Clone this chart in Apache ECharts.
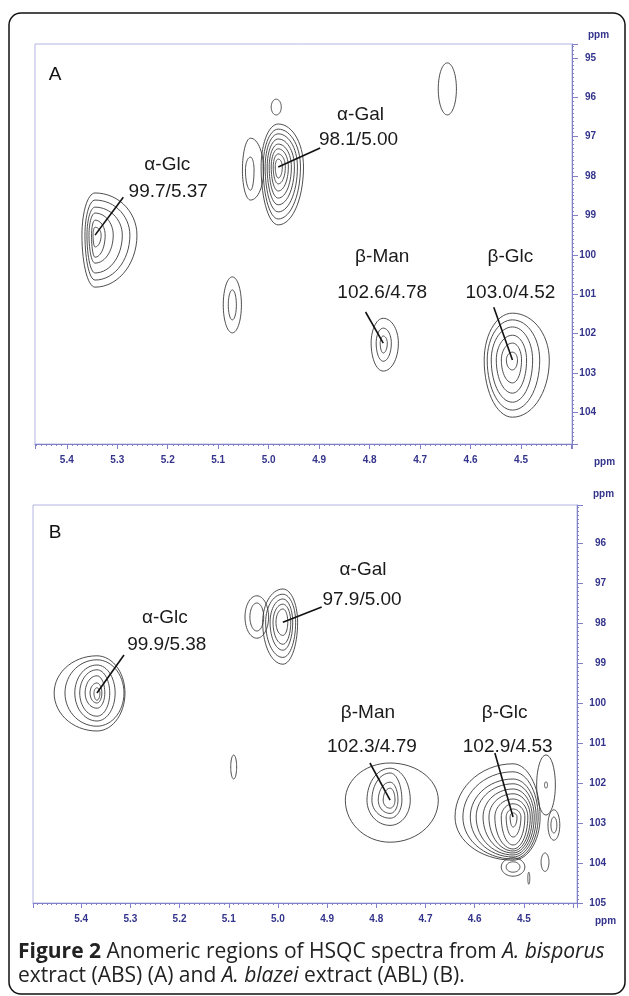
<!DOCTYPE html>
<html><head><meta charset="utf-8">
<script src="https://cdn.jsdelivr.net/npm/echarts@6/dist/echarts.min.js"></script>
<style>html,body{margin:0;padding:0;background:#fff}#c{width:629px;height:996px}</style>
</head><body><div id="c"></div>
<script>
// ---------- tick labels ----------
const xTickLabels = ['5.4','5.3','5.2','5.1','5.0','4.9','4.8','4.7','4.6','4.5'];
const yTickLabelsA = ['95','96','97','98','99','100','101','102','103','104'];
const yTickLabelsB = ['96','97','98','99','100','101','102','103','104','105'];

// ---------- contour peaks: centre [1H ppm, 13C ppm]; levels [left, right, up, down] half-extents in ppm ----------
// Panel A (ABS)
const A_aGlc_c = [5.344, 99.50];
const A_aGlc_lv = [[.026,.083,1.07,1.32],[.020,.069,.89,1.14],[.016,.054,.71,.96],[.012,.036,.56,.71],[.007,.020,.38,.56],[.004,.012,.20,.30]];
const A_aGal_c = [4.981, 97.77];
const A_aGal_lv = [[.034,.050,1.09,1.47],[.030,.044,.96,1.32],[.026,.038,.84,1.14],[.022,.032,.71,.96],[.018,.026,.58,.79],[.014,.020,.46,.61],[.010,.014,.33,.43],[.006,.008,.20,.28]];
const A_aGalSh_c = [5.036, 97.85];
const A_aGalSh_lv = [[.016,.026,.81,.76],[.010,.007,.33,.51]];
const A_small1_c = [4.985, 96.25];
const A_small1_lv = [[.010,.010,.20,.20]];
const A_top_c = [4.646, 95.79];
const A_top_lv = [[.018,.018,.66,.66]];
const A_p508_c = [5.072, 101.27];
const A_p508_lv = [[.018,.018,.71,.71],[.008,.008,.38,.38]];
const A_bMan_c = [4.773, 102.24];
const A_bMan_lv = [[.024,.030,.63,.71],[.014,.016,.38,.46],[.006,.008,.18,.25]];
const A_bGlc_c = [4.517, 102.67];
const A_bGlc_lv = [[.056,.073,1.19,1.45],[.050,.054,1.02,1.27],[.042,.040,.84,1.07],[.032,.028,.63,.84],[.022,.018,.43,.58],[.012,.010,.20,.25]];

// Panel B (ABL)
const B_aGlc_c = [5.368, 99.75];
const B_aGlc_lv = [[.087,.057,.93,.95],[.065,.055,.83,.83],[.045,.037,.70,.70],[.035,.026,.58,.58],[.024,.016,.43,.38],[.014,.010,.25,.25],[.006,.006,.13,.18]];
const B_aGal_c = [4.990, 97.98];
const B_aGal_lv = [[.041,.030,.83,1.05],[.035,.026,.70,.88],[.026,.020,.58,.70],[.020,.016,.45,.55],[.014,.010,.33,.33]];
const B_aGalSh_c = [5.043, 97.85];
const B_aGalSh_lv = [[.024,.024,.53,.53],[.014,.014,.35,.35]];
const B_p509_c = [5.090, 101.6];
const B_p509_lv = [[.006,.006,.30,.30]];
const B_bMan_c = [4.772, 102.43];
const B_bMan_lv = [[.091,.098,.93,1.05],[.047,.041,.80,.63],[.037,.024,.68,.45],[.024,.016,.45,.33],[.014,.010,.30,.20]];
const B_bGlc_c = [4.522, 102.85];
const B_bGlc_lv = [[.118,.055,1.33,1.08],[.102,.051,1.13,1.05],[.087,.047,.95,1.00],[.075,.043,.83,.95],[.061,.039,.70,.90],[.049,.035,.58,.85],[.037,.030,.45,.80],[.024,.024,.33,.70],[.014,.016,.20,.50],[.006,.008,.10,.25]];
const B_spike_c = [4.455, 102.05];
const B_spike_lv = [[.019,.019,.75,.75],[.003,.003,.08,.08]];
const B_oval1_c = [4.439, 103.05];
const B_oval1_lv = [[.012,.012,.38,.38],[.006,.006,.20,.20]];
const B_oval2_c = [4.457, 103.98];
const B_oval2_lv = [[.008,.008,.23,.23]];
const B_below_c = [4.522, 104.10];
const B_below_lv = [[.024,.024,.23,.23],[.014,.014,.13,.13]];
const B_tick_c = [4.490, 104.38];
const B_tick_lv = [[.002,.002,.15,.15]];

// ---------- annotations ----------
const annotA_names = ['α-Glc','α-Gal','β-Man','β-Glc'];
const annotA_values = ['99.7/5.37','98.1/5.00','102.6/4.78','103.0/4.52'];
const annotA_namePos = [[5.201,97.72],[4.818,96.45],[4.775,100.06],[4.521,100.06]];
const annotA_valuePos = [[5.199,98.41],[4.822,97.09],[4.775,100.97],[4.521,100.97]];
const annotA_leaderFrom = [[5.288,98.54],[4.898,97.29],[4.808,101.45],[4.554,101.33]];
const annotA_leaderTo = [[5.344,99.50],[4.981,97.77],[4.773,102.24],[4.517,102.67]];

const annotB_names = ['α-Glc','α-Gal','β-Man','β-Glc'];
const annotB_values = ['99.9/5.38','97.9/5.00','102.3/4.79','102.9/4.53'];
const annotB_namePos = [[5.230,97.88],[4.827,96.68],[4.817,100.25],[4.539,100.25]];
const annotB_valuePos = [[5.226,98.55],[4.829,97.43],[4.809,101.10],[4.533,101.10]];
const annotB_leaderFrom = [[5.313,98.80],[4.911,97.60],[4.813,101.50],[4.559,101.25]];
const annotB_leaderTo = [[5.368,99.75],[4.990,97.98],[4.772,102.43],[4.522,102.85]];

// ---------- build ----------
function rings(list){
  const out=[];
  list.forEach(([c,lv])=>lv.forEach(l=>out.push([c[0],c[1],l[0],l[1],l[2],l[3]])));
  return out;
}
const ringsA = rings([[A_aGlc_c,A_aGlc_lv],[A_aGal_c,A_aGal_lv],[A_aGalSh_c,A_aGalSh_lv],[A_small1_c,A_small1_lv],[A_top_c,A_top_lv],[A_p508_c,A_p508_lv],[A_bMan_c,A_bMan_lv],[A_bGlc_c,A_bGlc_lv]]);
const ringsB = rings([[B_aGlc_c,B_aGlc_lv],[B_aGal_c,B_aGal_lv],[B_aGalSh_c,B_aGalSh_lv],[B_p509_c,B_p509_lv],[B_bMan_c,B_bMan_lv],[B_bGlc_c,B_bGlc_lv],[B_spike_c,B_spike_lv],[B_oval1_c,B_oval1_lv],[B_oval2_c,B_oval2_lv],[B_below_c,B_below_lv],[B_tick_c,B_tick_lv]]);

function renderRing(params, api){
  const c = api.coord([api.value(0), api.value(1)]);
  const s = api.size([1,1]);
  const sx = Math.abs(s[0]), sy = Math.abs(s[1]);
  const L=api.value(2)*sx, R=api.value(3)*sx, U=api.value(4)*sy, D=api.value(5)*sy;
  const pts=[]; const N=60;
  for(let i=0;i<N;i++){
    const t=i/N*2*Math.PI, ct=Math.cos(t), st=Math.sin(t);
    pts.push([c[0]+ct*(ct<0?L:R), c[1]+st*(st<0?U:D)]);
  }
  return {type:'polygon', shape:{points:pts}, style:{fill:null, stroke:'#3a3a3a', lineWidth:0.9}};
}

function annotData(names, vals, np, vp, lf, lt){
  return names.map((n,i)=>[lf[i][0],lf[i][1],lt[i][0],lt[i][1],np[i][0],np[i][1],vp[i][0],vp[i][1],i]);
}
function makeAnnotRender(names, vals){
  return function(params, api){
    const a = api.coord([api.value(0),api.value(1)]);
    const b = api.coord([api.value(2),api.value(3)]);
    const n = api.coord([api.value(4),api.value(5)]);
    const v = api.coord([api.value(6),api.value(7)]);
    const i = api.value(8);
    const ts = {fontSize:19, fontFamily:'"Liberation Sans", Arial, sans-serif', fill:'#1a1a1a', align:'center', verticalAlign:'middle'};
    return {type:'group', children:[
      {type:'line', shape:{x1:a[0],y1:a[1],x2:b[0],y2:b[1]}, style:{stroke:'#111', lineWidth:1.6}},
      {type:'text', style:Object.assign({text:names[i], x:n[0], y:n[1]}, ts)},
      {type:'text', style:Object.assign({text:vals[i], x:v[0], y:v[1]}, ts)}
    ]};
  };
}

const axisColor = '#8080c8';
const labelColor = '#34348c';
const labelFont = {color:labelColor, fontWeight:'bold', fontSize:10, fontFamily:'"Liberation Sans", Arial, sans-serif'};

function xAxisCfg(gi, min, max, gap){
  return {type:'value', gridIndex:gi, inverse:true, min:min, max:max, splitNumber:10, minInterval:0.1, maxInterval:0.1,
    axisLine:{show:true, lineStyle:{color:axisColor, width:1}},
    axisTick:{show:true, length:5, lineStyle:{color:axisColor}},
    minorTick:{show:true, splitNumber:10, length:2, lineStyle:{color:axisColor}},
    splitLine:{show:false}, minorSplitLine:{show:false},
    axisLabel:Object.assign({margin:11, formatter:(v)=>{const s=v.toFixed(1); return (Math.abs(v*10-Math.round(v*10))<1e-6 && xTickLabels.includes(s))?s:'';}}, labelFont),
    name:'ppm', nameLocation:'start', nameGap:gap,
    nameTextStyle:Object.assign({verticalAlign:'top', padding:[13,0,0,0]}, labelFont)
  };
}
function yAxisCfg(gi, min, max, labels, margin, gap){
  return {type:'value', gridIndex:gi, position:'right', inverse:true, min:min, max:max, splitNumber:10, minInterval:1, maxInterval:1,
    axisLine:{show:true, lineStyle:{color:axisColor, width:1}},
    axisTick:{show:true, length:6, lineStyle:{color:axisColor}},
    minorTick:{show:true, splitNumber:10, length:2, lineStyle:{color:axisColor}},
    splitLine:{show:false}, minorSplitLine:{show:false},
    axisLabel:Object.assign({margin:margin, align:'right', formatter:(v)=>{const r=Math.round(v); return (Math.abs(v-r)<1e-6 && labels.includes(String(r)))?String(r):'';}}, labelFont),
    name:'ppm', nameLocation:'start', nameGap:gap,
    nameTextStyle:Object.assign({align:'left', padding:[0,0,0,16]}, labelFont)
  };
}

const chart = echarts.init(document.getElementById('c'), null, {renderer:'canvas'});
chart.setOption({
  animation:false,
  backgroundColor:'#fff',
  grid:[
    {left:35, top:44, width:537, height:400, show:true, borderColor:'#b4b4e2', borderWidth:1},
    {left:33, top:505, width:544, height:398, show:true, borderColor:'#b4b4e2', borderWidth:1}
  ],
  xAxis:[xAxisCfg(0, 4.399, 5.463, 22), xAxisCfg(1, 4.392, 5.498, 18)],
  yAxis:[yAxisCfg(0, 94.65, 104.8, yTickLabelsA, 24, 4), yAxisCfg(1, 95.05, 105, yTickLabelsB, 29, 6)],
  series:[
    {type:'custom', name:'contours A', xAxisIndex:0, yAxisIndex:0, renderItem:renderRing, data:ringsA, silent:true},
    {type:'custom', name:'contours B', xAxisIndex:1, yAxisIndex:1, renderItem:renderRing, data:ringsB, silent:true},
    {type:'custom', name:'labels A', xAxisIndex:0, yAxisIndex:0, renderItem:makeAnnotRender(annotA_names, annotA_values), data:annotData(annotA_names, annotA_values, annotA_namePos, annotA_valuePos, annotA_leaderFrom, annotA_leaderTo), silent:true},
    {type:'custom', name:'labels B', xAxisIndex:1, yAxisIndex:1, renderItem:makeAnnotRender(annotB_names, annotB_values), data:annotData(annotB_names, annotB_values, annotB_namePos, annotB_valuePos, annotB_leaderFrom, annotB_leaderTo), silent:true}
  ],
  graphic:[
    {type:'rect', silent:true, shape:{x:9, y:13, width:616, height:981, r:12}, style:{fill:null, stroke:'#111', lineWidth:1.5}},
    {type:'text', silent:true, style:{text:'A', x:55, y:75, align:'center', verticalAlign:'middle', fontSize:19, fontFamily:'"Liberation Sans", Arial, sans-serif', fill:'#111'}},
    {type:'text', silent:true, style:{text:'B', x:55, y:533, align:'center', verticalAlign:'middle', fontSize:19, fontFamily:'"Liberation Sans", Arial, sans-serif', fill:'#111'}},
    {type:'text', silent:true, style:{
      text:'{b|Figure 2} Anomeric regions of HSQC spectra from {i|A. bisporus}\nextract (ABS) (A) and {i|A. blazei} extract (ABL) (B).',
      x:18, y:940, fontSize:21, lineHeight:24, fontFamily:'"Open Sans", sans-serif', fill:'#222',
      rich:{b:{fontWeight:'bold', fontSize:21, lineHeight:24, fontFamily:'"Open Sans", sans-serif', fill:'#222'}, i:{fontStyle:'italic', fontSize:21, lineHeight:24, fontFamily:'"Open Sans", sans-serif', fill:'#222'}}
    }}
  ]
});
</script>
</body></html>
